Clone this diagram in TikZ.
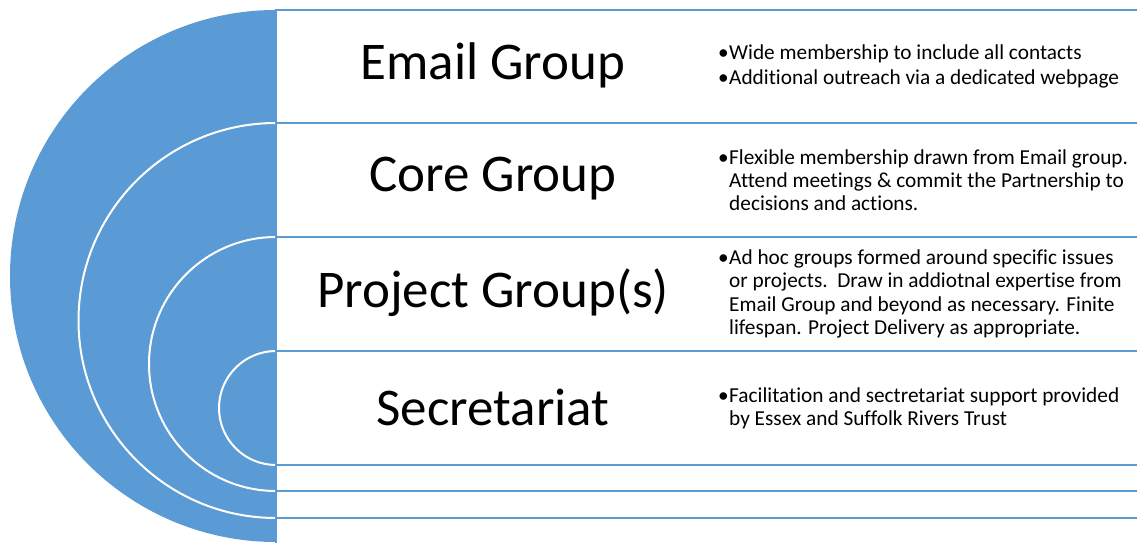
\documentclass[tikz,border=0pt]{standalone}
\usepackage{fontspec}
\setmainfont{Carlito}[Ligatures=NoCommon]
\definecolor{sablue}{HTML}{5B9BD5}
\tikzset{
  rowbox/.style={draw=sablue, line width=2pt, fill=white},
  ring/.style={draw=white, line width=2pt},
  title/.style={font=\fontsize{53}{60}\selectfont, text=black, inner sep=0pt},
  desc/.style={font=\fontsize{21.3}{23.3}\selectfont, text=black, align=left, anchor=west, inner sep=0pt}
}
\newcommand{\bul}{\makebox[11pt][l]{•}}
\newcommand{\ind}{\hspace*{11pt}}
\begin{document}
\begin{tikzpicture}[x=1pt,y=1pt]
\useasboundingbox (0,0) rectangle (1137,543);
\begin{scope}
\clip (0,0) rectangle (1137,543);
% outer half disc
\fill[sablue] (276,533) arc[start angle=90, end angle=270, radius=266] -- cycle;
% white rings
\draw[ring] (276,420) arc[start angle=90, end angle=270, radius=197.5];
\draw[ring] (276,306) arc[start angle=90, end angle=270, radius=127];
\draw[ring] (276,192) arc[start angle=90, end angle=270, radius=57];
% row rectangles
\draw[rowbox] (276,533) rectangle (1150,-10);
\draw[rowbox] (276,420) rectangle (1150,25);
\draw[rowbox] (276,306) rectangle (1150,52);
\draw[rowbox] (276,192) rectangle (1150,78);
\end{scope}
% titles
\node[title] (email) at (493,477.5) {Email Group};
\node[title] (core) at (493,364) {Core Group};
\node[title] (proj) at (493,250) {Project Group(s)};
\node[title] (secr) at (493,136) {Secretariat};
% descriptions
\node[desc] (emaild) at (718,476.5) {\bul Wide membership to include all contacts\\[2.5pt]\bul Additional outreach via a dedicated webpage};
\node[desc] (cored) at (718,363) {\bul Flexible membership drawn from Email group.\\\ind Attend meetings \& commit the Partnership to\\\ind decisions and actions.};
\node[desc] (projd) at (718,249) {\bul Ad hoc groups formed around specific issues\\\ind or projects.\ \ Draw in addiotnal expertise from\\\ind Email Group and beyond as necessary. Finite\\\ind lifespan. Project Delivery as appropriate.};
\node[desc] (secrd) at (718,135) {\bul Facilitation and sectretariat support provided\\\ind by Essex and Suffolk Rivers Trust};
\end{tikzpicture}
\end{document}
